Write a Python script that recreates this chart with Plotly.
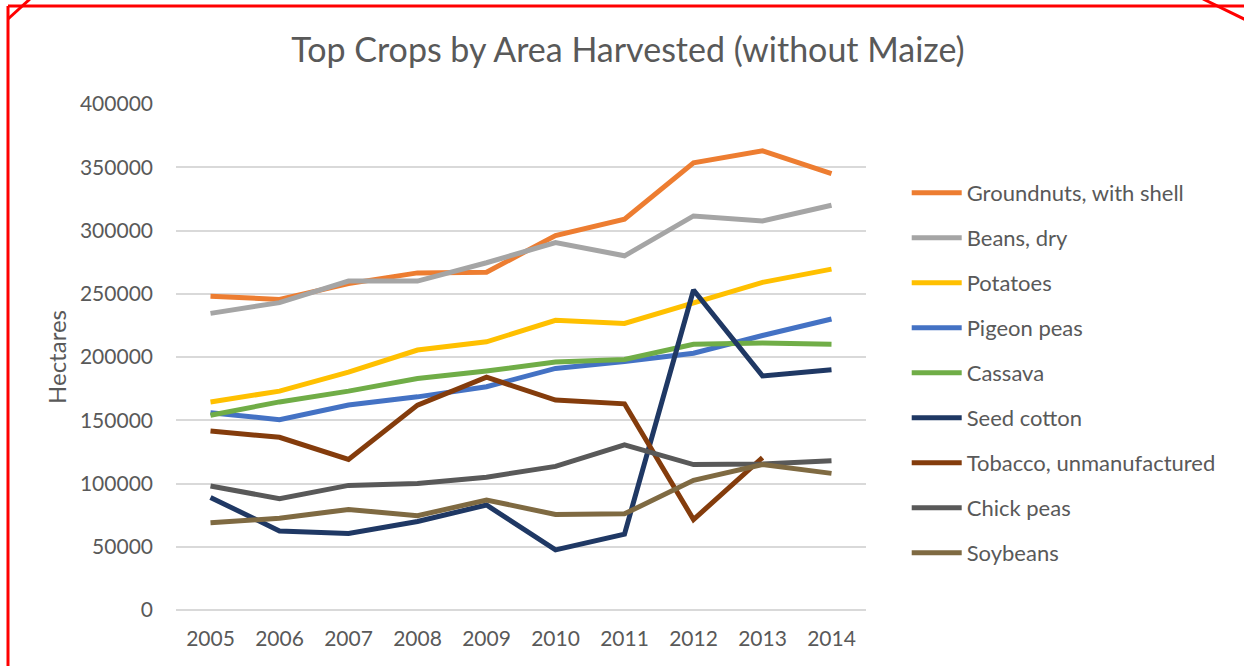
import plotly.graph_objects as go

years = ["2005", "2006", "2007", "2008", "2009", "2010", "2011", "2012", "2013", "2014"]

groundnuts = [248000, 245500, 258000, 266500, 267000, 296000, 309000, 353500, 363000, 345000]
beans = [234500, 243000, 260000, 260000, 274500, 290500, 280000, 311500, 307500, 320000]
potatoes = [164500, 173000, 188000, 205500, 212000, 229000, 226500, 242500, 259000, 269500]
pigeon_peas = [156000, 150500, 162000, 168500, 176500, 191000, 196500, 203000, 217000, 230000]
cassava = [154000, 164500, 173000, 183000, 189000, 196000, 198000, 210000, 211000, 210000]
seed_cotton = [89000, 62500, 60500, 70000, 83000, 47500, 60000, 253000, 185000, 190000]
tobacco = [141500, 136500, 119000, 162000, 184000, 166000, 163000, 71500, 120500, None]
chick_peas = [98000, 88000, 98500, 100000, 105000, 113500, 130500, 115000, 115500, 118000]
soybeans = [69000, 72500, 79500, 74500, 87000, 75500, 76000, 102500, 115000, 108000]

series_names = ["Groundnuts, with shell", "Beans, dry", "Potatoes", "Pigeon peas", "Cassava",
                "Seed cotton", "Tobacco, unmanufactured", "Chick peas", "Soybeans"]
series_values = [groundnuts, beans, potatoes, pigeon_peas, cassava,
                 seed_cotton, tobacco, chick_peas, soybeans]
series_colors = ["#ED7D31", "#A5A5A5", "#FFC000", "#4472C4", "#70AD47",
                 "#1F3864", "#843C0C", "#595959", "#7F6A42"]

y_ticks = [0, 50000, 100000, 150000, 200000, 250000, 300000, 350000, 400000]

FONT = "Lato"
TXT = "#595959"

fig = go.Figure()
for i, (name, vals, col) in enumerate(zip(series_names, series_values, series_colors)):
    fig.add_trace(go.Scatter(
        x=years, y=vals, name=name, mode="lines",
        line=dict(color=col, width=5),
        legendgroup=f"g{i}",
        connectgaps=False,
    ))

fig.update_layout(
    width=1244, height=666,
    autosize=False,
    paper_bgcolor="white", plot_bgcolor="white",
    margin=dict(l=176, r=378, t=104, b=56),
    font=dict(family=FONT, color=TXT, size=21),
    title=dict(text="Top Crops by Area Harvested (without Maize)",
               x=628 / 1244, xanchor="center", y=1 - 50 / 666, yanchor="middle",
               font=dict(family=FONT, size=34, color=TXT)),
    xaxis=dict(type="category", range=[-0.5, 9.5], showgrid=False, showline=False,
               zeroline=False, ticks="", tickfont=dict(size=21, color=TXT),
               ticklabelstandoff=14),
    yaxis=dict(range=[0, 400000], tickvals=y_ticks, ticktext=[str(v) for v in y_ticks],
               showgrid=True, gridcolor="#D9D9D9", gridwidth=1.5,
               zeroline=True, zerolinecolor="#D9D9D9", zerolinewidth=1.5,
               showline=False, ticks="", tickfont=dict(size=21, color=TXT),
               ticklabelstandoff=22,
               title=dict(text="Hectares", font=dict(size=24, color=TXT), standoff=6)),
    legend=dict(x=1.059, xanchor="left", y=1 - (192 - 104 - 20) / 506, yanchor="top",
                font=dict(size=22, color=TXT), tracegroupgap=13.4, itemwidth=50,
                bgcolor="rgba(0,0,0,0)"),
    showlegend=True,
)

# red frame around the screenshot (decoration)
red = dict(color="#FF0000", width=3)
fig.add_shape(type="line", xref="paper", yref="paper",
              x0=(8 - 176) / 690, x1=(8 - 176) / 690, y0=(610 - 6) / 506, y1=(610 - 670) / 506, line=red)
fig.add_shape(type="line", xref="paper", yref="paper",
              x0=(8 - 176) / 690, x1=(1250 - 176) / 690, y0=(610 - 6) / 506, y1=(610 - 6) / 506, line=red)
fig.add_shape(type="line", xref="paper", yref="paper",
              x0=(8 - 176) / 690, x1=(30 - 176) / 690, y0=(610 - 19) / 506, y1=(610 + 1) / 506, line=red)
fig.add_shape(type="line", xref="paper", yref="paper",
              x0=(1203 - 176) / 690, x1=(1246 - 176) / 690, y0=(610 + 1) / 506, y1=(610 - 20) / 506, line=red)

fig.write_html("out.html", post_script="document.body.style.margin='0';",
               config={"displayModeBar": False})
